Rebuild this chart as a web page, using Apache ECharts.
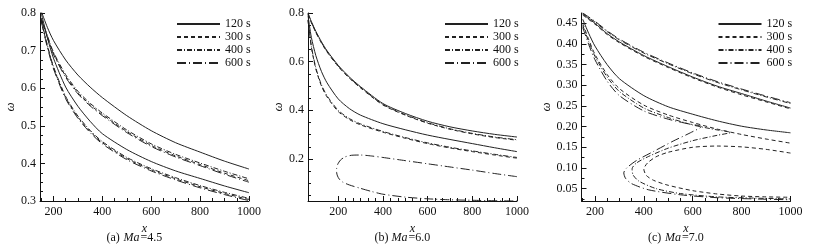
<!DOCTYPE html>
<html>
<head>
<meta charset="utf-8">
<script src="https://cdn.jsdelivr.net/npm/echarts@6/dist/echarts.min.js"></script>
<style>
	html, body { margin: 0; padding: 0; background: #fff; }
	#chart { width: 813px; height: 248px; }
</style>
</head>
<body>
<div id="chart"></div>
<script>
	// legend names
	var timeNames = ['120 s', '300 s', '400 s', '600 s'];

	// tick labels
	var xTicks = [200, 400, 600, 800, 1000];
	var yTicksA = [0.3, 0.4, 0.5, 0.6, 0.7, 0.8];
	var yTicksB = [0.2, 0.4, 0.6, 0.8];
	var yTicksC = [0.05, 0.10, 0.15, 0.20, 0.25, 0.30, 0.35, 0.40, 0.45];

	// (a) Ma=4.5  [x, omega]
	var a120Upper = [[150,0.805],[175,0.762],[200,0.727],[250,0.675],[300,0.635],[350,0.603],[400,0.575],[500,0.527],[600,0.487],[700,0.455],[800,0.43],[900,0.406],[1000,0.385]];
	var a120Lower = [[150,0.80],[175,0.735],[200,0.68],[250,0.603],[300,0.552],[350,0.512],[400,0.479],[500,0.437],[600,0.405],[700,0.38],[800,0.36],[900,0.34],[1000,0.322]];
	var a300Upper = [[150,0.785],[175,0.737],[200,0.693],[250,0.632],[300,0.588],[350,0.556],[400,0.53],[500,0.485],[600,0.448],[700,0.42],[800,0.397],[900,0.374],[1000,0.354]];
	var a300Lower = [[150,0.78],[175,0.712],[200,0.655],[250,0.575],[300,0.523],[350,0.485],[400,0.455],[500,0.413],[600,0.383],[700,0.359],[800,0.338],[900,0.32],[1000,0.304]];
	var a400Upper = [[150,0.787],[175,0.74],[200,0.696],[250,0.636],[300,0.592],[350,0.56],[400,0.534],[500,0.489],[600,0.452],[700,0.424],[800,0.401],[900,0.379],[1000,0.359]];
	var a400Lower = [[150,0.782],[175,0.715],[200,0.658],[250,0.578],[300,0.526],[350,0.488],[400,0.458],[500,0.416],[600,0.386],[700,0.362],[800,0.341],[900,0.323],[1000,0.307]];
	var a600Upper = [[150,0.783],[175,0.735],[200,0.69],[250,0.629],[300,0.585],[350,0.553],[400,0.527],[500,0.482],[600,0.445],[700,0.417],[800,0.394],[900,0.371],[1000,0.35]];
	var a600Lower = [[150,0.778],[175,0.709],[200,0.652],[250,0.572],[300,0.52],[350,0.482],[400,0.452],[500,0.41],[600,0.38],[700,0.356],[800,0.335],[900,0.317],[1000,0.301]];

	// (b) Ma=6.0
	var b120Upper = [[65,0.80],[80,0.765],[100,0.725],[125,0.682],[150,0.645],[200,0.585],[250,0.537],[300,0.497],[400,0.428],[500,0.387],[600,0.355],[700,0.332],[800,0.315],[900,0.301],[1000,0.29]];
	var b120Lower = [[65,0.79],[80,0.70],[100,0.625],[125,0.56],[150,0.513],[200,0.447],[250,0.407],[300,0.38],[400,0.345],[500,0.32],[600,0.298],[700,0.28],[800,0.263],[900,0.246],[1000,0.23]];
	var b300Upper = [[65,0.795],[80,0.76],[100,0.72],[125,0.677],[150,0.64],[200,0.58],[250,0.532],[300,0.492],[400,0.422],[500,0.38],[600,0.347],[700,0.322],[800,0.303],[900,0.288],[1000,0.277]];
	var b300Lower = [[65,0.77],[80,0.66],[100,0.57],[125,0.50],[150,0.455],[200,0.395],[250,0.362],[300,0.34],[400,0.31],[500,0.285],[600,0.263],[700,0.245],[800,0.23],[900,0.216],[1000,0.203]];
	var b400Upper = [[65,0.797],[80,0.762],[100,0.722],[125,0.679],[150,0.642],[200,0.582],[250,0.534],[300,0.494],[400,0.424],[500,0.382],[600,0.349],[700,0.324],[800,0.305],[900,0.29],[1000,0.279]];
	var b400Lower = [[65,0.772],[80,0.664],[100,0.575],[125,0.505],[150,0.46],[200,0.40],[250,0.366],[300,0.344],[400,0.313],[500,0.288],[600,0.266],[700,0.248],[800,0.233],[900,0.219],[1000,0.206]];
	var b600Loop = [[1000,0.127],[900,0.14],[800,0.154],[700,0.167],[600,0.18],[500,0.193],[400,0.206],[350,0.212],[300,0.216],[260,0.215],[230,0.208],[210,0.195],[198,0.178],[193,0.16],[193,0.145],[197,0.13],[205,0.117],[220,0.105],[250,0.093],[300,0.079],[350,0.066],[400,0.055],[500,0.043],[600,0.036],[700,0.032],[800,0.03],[900,0.028],[1000,0.027]];

	// (c) Ma=7.0
	var c120Upper = [[150,0.472],[200,0.45],[250,0.425],[300,0.405],[400,0.372],[500,0.345],[600,0.32],[700,0.298],[800,0.28],[900,0.262],[1000,0.245]];
	var c120Lower = [[150,0.46],[175,0.425],[200,0.395],[250,0.35],[300,0.316],[400,0.275],[500,0.248],[600,0.23],[700,0.214],[800,0.201],[900,0.192],[1000,0.185]];
	var c300Upper = [[150,0.47],[200,0.448],[250,0.423],[300,0.403],[400,0.37],[500,0.343],[600,0.318],[700,0.296],[800,0.277],[900,0.26],[1000,0.243]];
	var c300Lower = [[150,0.45],[175,0.41],[200,0.375],[250,0.326],[300,0.292],[400,0.252],[500,0.228],[600,0.21],[700,0.194],[800,0.181],[900,0.17],[1000,0.16]];
	var c300Loop = [[1000,0.136],[900,0.145],[800,0.151],[700,0.153],[600,0.15],[500,0.138],[450,0.127],[415,0.112],[400,0.097],[410,0.082],[440,0.07],[500,0.058],[600,0.045],[700,0.037],[800,0.032],[900,0.03],[1000,0.029]];
	var c400Upper = [[150,0.474],[200,0.453],[250,0.43],[300,0.41],[400,0.378],[500,0.352],[600,0.328],[700,0.307],[800,0.289],[900,0.272],[1000,0.256]];
	var c400Lower = [[150,0.445],[175,0.405],[200,0.37],[250,0.32],[300,0.285],[400,0.245],[500,0.222],[600,0.204],[700,0.192],[755,0.186],[700,0.179],[600,0.166],[500,0.148],[420,0.128],[370,0.112],[352,0.098],[356,0.083],[380,0.068],[450,0.05],[550,0.038],[700,0.03],[850,0.027],[1000,0.025]];
	var c600Upper = [[150,0.475],[200,0.455],[250,0.432],[300,0.412],[400,0.38],[500,0.354],[600,0.33],[700,0.309],[800,0.291],[900,0.274],[1000,0.258]];
	var c600Lower = [[150,0.44],[175,0.398],[200,0.362],[250,0.31],[300,0.275],[400,0.238],[500,0.218],[580,0.207],[635,0.20],[590,0.185],[520,0.165],[440,0.14],[370,0.118],[330,0.1],[318,0.088],[325,0.075],[350,0.062],[420,0.047],[550,0.035],[700,0.028],[850,0.025],[1000,0.023]];

	// caption pieces: prefix, italic part, suffix
	var captions = [['(a)', 'Ma', '=4.5'], ['(b)', 'Ma', '=6.0'], ['(c)', 'Ma', '=7.0']];

	var lineColor = '#222';
	var fontName = 'Liberation Serif';
	var dashes = {
		'120 s': 'solid',
		'300 s': [4, 3],
		'400 s': [5, 2, 1, 2],
		'600 s': [9, 3, 1, 3]
	};

	var panels = [
		{ left: 40, min: 145, max: 1000, ymin: 0.3, ymax: 0.8, yTicks: yTicksA, yDigits: 1, yMinorStep: 0.025, xMinorStep: 50, xMinorStart: 150 },
		{ left: 308, min: 65, max: 1000, ymin: 0.027, ymax: 0.8, yTicks: yTicksB, yDigits: 1, yMinorStep: 0.05, xMinorStep: 200 / 6, xMinorStart: 200 },
		{ left: 581.5, min: 145, max: 1000, ymin: 0.02, ymax: 0.475, yTicks: yTicksC, yDigits: 2, yMinorStep: 0.025, xMinorStep: 50, xMinorStart: 150 }
	];
	var gridTop = 13;
	var gridHeight = 188;
	var gridWidth = 209;

	var curves = [
		[['120 s', a120Upper], ['120 s', a120Lower], ['300 s', a300Upper], ['300 s', a300Lower], ['400 s', a400Upper], ['400 s', a400Lower], ['600 s', a600Upper], ['600 s', a600Lower]],
		[['120 s', b120Upper], ['120 s', b120Lower], ['300 s', b300Upper], ['300 s', b300Lower], ['400 s', b400Upper], ['400 s', b400Lower], ['600 s', b600Loop]],
		[['120 s', c120Upper], ['120 s', c120Lower], ['300 s', c300Upper], ['300 s', c300Lower], ['300 s', c300Loop], ['400 s', c400Upper], ['400 s', c400Lower], ['600 s', c600Upper], ['600 s', c600Lower]]
	];

	function minorValues(start, step, min, max){
		var arr = [];
		for(var v = start; v <= max + 1e-9; v += step){
			if(v >= min - 1e-9)
				arr.push(v);
		}
		return arr;
	}

	function extend(a, b){
		var o = {};
		for(var k in a) o[k] = a[k];
		for(var k2 in b) o[k2] = b[k2];
		return o;
	}

	var grid = [], xAxis = [], yAxis = [], series = [], legend = [], graphic = [];

	for(var p = 0; p < panels.length; p++){

		var pn = panels[p];
		grid.push({ left: pn.left, top: gridTop, width: gridWidth, height: gridHeight, show: false });

		// main x axis
		xAxis.push({
			type: 'value', gridIndex: p, min: pn.min, max: pn.max, position: 'bottom',
			name: 'x', nameLocation: 'middle', nameGap: 0,
			nameTextStyle: { fontFamily: fontName, fontSize: 12, fontStyle: 'italic', color: '#111' },
			axisLine: { lineStyle: { color: '#111', width: 1 } },
			axisTick: { inside: true, length: 5, customValues: xTicks, lineStyle: { color: '#111' } },
			axisLabel: {
				customValues: xTicks, margin: 5, fontFamily: fontName, fontSize: 12, color: '#111',
				formatter: function(v){ return String(v); }
			},
			splitLine: { show: false }
		});
		// minor x ticks
		xAxis.push({
			type: 'value', gridIndex: p, min: pn.min, max: pn.max, position: 'bottom',
			axisLine: { show: false },
			axisTick: { inside: true, length: 3, customValues: minorValues(pn.xMinorStart, pn.xMinorStep, pn.min, pn.max), lineStyle: { color: '#111' } },
			axisLabel: { show: false },
			splitLine: { show: false }
		});

		(function(digits){
			yAxis.push({
				type: 'value', gridIndex: p, min: pn.ymin, max: pn.ymax, position: 'left',
				name: 'ω', nameLocation: 'middle', nameGap: 19, nameRotate: 90,
				nameTextStyle: { fontFamily: fontName, fontSize: 13, fontStyle: 'italic', color: '#111' },
				axisLine: { show: true, lineStyle: { color: '#111', width: 1 } },
				axisTick: { show: true, inside: true, length: 5, customValues: pn.yTicks, lineStyle: { color: '#111' } },
				axisLabel: {
					customValues: pn.yTicks, margin: 4, fontFamily: fontName, fontSize: 12, color: '#111',
					formatter: function(v){ return v.toFixed(digits); }
				},
				splitLine: { show: false }
			});
		})(pn.yDigits);
		yAxis.push({
			type: 'value', gridIndex: p, min: pn.ymin, max: pn.ymax, position: 'left',
			axisLine: { show: false },
			axisTick: { show: true, inside: true, length: 3, customValues: minorValues(pn.yTicks[0] - pn.yMinorStep * 8, pn.yMinorStep, pn.ymin, pn.ymax), lineStyle: { color: '#111' } },
			axisLabel: { show: false },
			splitLine: { show: false }
		});

		// curves
		for(var c = 0; c < curves[p].length; c++){
			var nm = curves[p][c][0];
			series.push({
				type: 'line', name: nm, xAxisIndex: p * 2, yAxisIndex: p * 2,
				data: curves[p][c][1], symbol: 'none', smooth: 0.25, animation: false,
				lineStyle: { color: lineColor, width: 1, type: dashes[nm] },
				itemStyle: { color: lineColor }
			});
		}

		legend.push({
			data: timeNames, orient: 'vertical', left: pn.left + 136, top: 18,
			itemWidth: 43, itemHeight: 8, itemGap: 1, padding: 0,
			selectedMode: false,
			itemStyle: { opacity: 0 },
			textStyle: { fontFamily: fontName, fontSize: 12, color: '#111' }
		});

		// caption under each panel, in three pieces so the italic part keeps its own room
		var cx = pn.left + gridWidth / 2 - 38;
		var textFont = { fontFamily: fontName, fontSize: 12, fill: '#111' };
		graphic.push({
			type: 'group', left: cx, top: 232,
			children: [
				{ type: 'text', x: 0, y: 0, style: extend(textFont, { text: captions[p][0] }) },
				{ type: 'text', x: 17, y: 0, style: extend(textFont, { text: captions[p][1], fontStyle: 'italic' }) },
				{ type: 'text', x: 34, y: 0, style: extend(textFont, { text: captions[p][2] }) }
			]
		});
	}

	var chart = echarts.init(document.getElementById('chart'), null, { renderer: 'canvas' });
	chart.setOption({
		animation: false,
		backgroundColor: '#fff',
		grid: grid,
		xAxis: xAxis,
		yAxis: yAxis,
		legend: legend,
		graphic: graphic,
		series: series
	});
</script>
</body>
</html>
